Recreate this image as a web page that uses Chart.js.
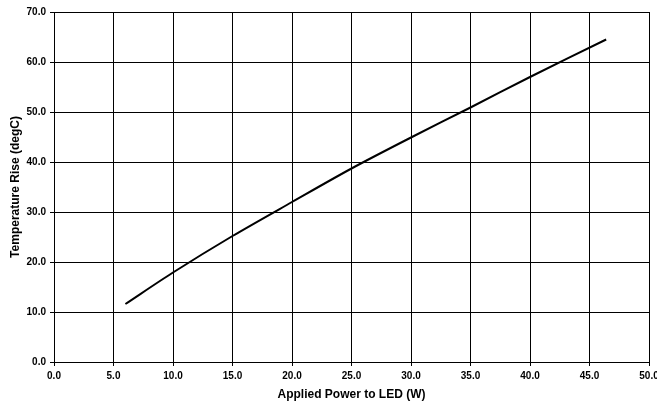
<!DOCTYPE html>
<html>
<head>
<meta charset="utf-8">
<script src="https://cdn.jsdelivr.net/npm/chart.js@4"></script>
<style>
  html, body { margin: 0; padding: 0; background: #fff; }
  #wrap { width: 657px; height: 405px; }
</style>
</head>
<body>
<div id="wrap"><canvas id="chart" width="657" height="405"></canvas></div>
<script>
// applied power (W) vs temperature rise (degC)
const powerW = [6.0, 10.0, 15.0, 20.0, 25.0, 30.0, 35.0, 40.0, 46.4];
const tempRise = [11.6, 17.9, 25.2, 32.0, 38.7, 44.9, 50.9, 57.0, 64.5];

const X_MIN = 0, X_MAX = 50, X_STEP = 5;
const Y_MIN = 0, Y_MAX = 70, Y_STEP = 10;

const FONT = "'Liberation Sans', Arial, sans-serif";

const points = powerW.map((x, i) => ({ x, y: tempRise[i] }));

// keep tick labels from pushing the plot area inwards
function noLabelPadding(s) {
  s.paddingLeft = 0;
  s.paddingRight = 0;
  s.paddingTop = 0;
  s.paddingBottom = 0;
}

new Chart(document.getElementById("chart"), {
  type: "line",
  data: {
    datasets: [
      {
        data: points,
        borderColor: "#000",
        borderWidth: 2,
        pointRadius: 0,
        fill: false,
        tension: 0.3,
      },
    ],
  },
  options: {
    responsive: false,
    animation: false,
    layout: { autoPadding: false, padding: { top: 12, right: 8, left: 0, bottom: 0 } },
    plugins: { legend: { display: false }, tooltip: { enabled: false } },
    scales: {
      x: {
        type: "linear",
        min: X_MIN,
        max: X_MAX,
        afterFit: (s) => {
          s.height = 43;
          noLabelPadding(s);
        },
        ticks: {
          stepSize: X_STEP,
          color: "#000",
          padding: 4,
          maxRotation: 0,
          font: { family: FONT, size: 10, weight: "bold" },
          callback: (v) => Number(v).toFixed(1),
        },
        grid: { color: "#000", lineWidth: 1, tickLength: 4 },
        border: { color: "#000", width: 1 },
        title: {
          display: true,
          text: "Applied Power to LED (W)",
          color: "#000",
          padding: { top: 0, bottom: 3 },
          font: { family: FONT, size: 12, weight: "bold" },
        },
      },
      y: {
        min: Y_MIN,
        max: Y_MAX,
        afterFit: (s) => {
          s.width = 54;
          noLabelPadding(s);
        },
        ticks: {
          stepSize: Y_STEP,
          color: "#000",
          padding: 4,
          font: { family: FONT, size: 10, weight: "bold" },
          callback: (v) => Number(v).toFixed(1),
        },
        grid: { color: "#000", lineWidth: 1, tickLength: 4 },
        border: { color: "#000", width: 1 },
        title: {
          display: true,
          text: "Temperature Rise (degC)",
          color: "#000",
          padding: { top: 8, bottom: 0 },
          font: { family: FONT, size: 12, weight: "bold" },
        },
      },
    },
  },
});
</script>
</body>
</html>
